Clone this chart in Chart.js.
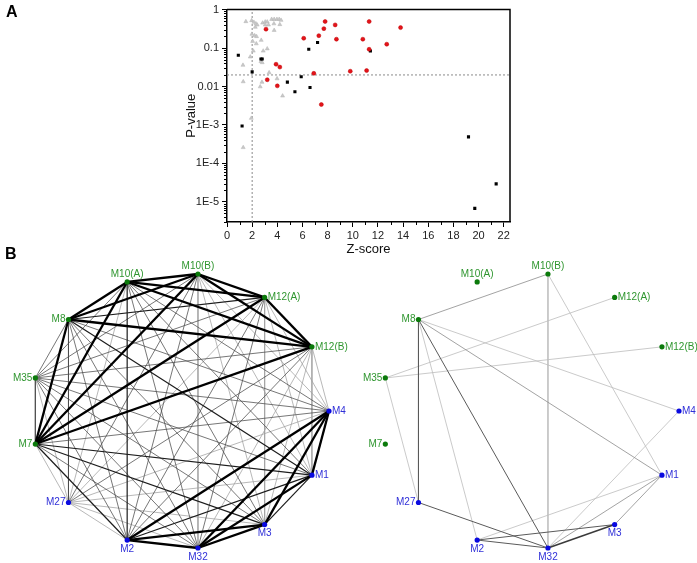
<!DOCTYPE html>
<html>
<head>
<meta charset="utf-8">
<script src="https://cdn.jsdelivr.net/npm/chart.js@4.4.1/dist/chart.umd.min.js"></script>
<style>
  body { margin: 0; background: #fff; width: 697px; height: 563px; position: relative; overflow: hidden; font-family: Arial, "Liberation Sans", sans-serif; }
  canvas { position: absolute; }
  .panel { position: absolute; font-weight: bold; font-size: 16px; color: #000; }
</style>
</head>
<body>
<canvas id="scoreChart" style="left:0;top:0" width="697" height="262"></canvas>
<canvas id="netLeft" style="left:0;top:250px" width="350" height="313"></canvas>
<canvas id="netRight" style="left:350px;top:250px" width="347" height="313"></canvas>
<div class="panel" style="left:6px;top:3px">A</div>
<div class="panel" style="left:5px;top:245px">B</div>
<script>
// ---------------- Panel A data ----------------
const triZ = [1.5, 1.96, 2.14, 2.3, 2.4, 2.25, 2.83, 3.04, 3.2, 3.3, 3.04, 3.55, 3.75, 3.97, 4.15, 4.3, 3.73, 4.2, 3.75,
  1.98, 2.2, 2.35, 2.04, 2.33, 2.72, 3.2, 2.88, 2.09, 1.85, 2.7, 2.8, 1.27, 3.35, 3.98, 1.29, 2.78, 2.64, 4.42, 1.93, 1.29];
const triP = [0.49, 0.52, 0.47, 0.43, 0.40, 0.35, 0.45, 0.48, 0.48, 0.40, 0.40, 0.56, 0.56, 0.56, 0.56, 0.53, 0.43, 0.41, 0.29,
  0.23, 0.21, 0.20, 0.15, 0.13, 0.16, 0.096, 0.084, 0.084, 0.059, 0.045, 0.042, 0.036, 0.023, 0.016, 0.0134, 0.013, 0.0099, 0.0057, 0.0015, 0.00026];

const sqZ = [0.9, 1.2, 2.0, 2.7, 2.8, 4.8, 5.4, 5.9, 6.5, 6.6, 7.2, 11.4, 19.2, 19.7, 21.4];
const sqP = [0.065, 0.00094, 0.024, 0.052, 0.052, 0.013, 0.0073, 0.018, 0.093, 0.0094, 0.14, 0.084, 0.00049, 0.0000068, 0.0000295];

const dotZ = [3.1, 3.9, 4.2, 3.2, 4.0, 6.1, 6.9, 7.5, 7.3, 7.7, 7.8, 8.6, 8.7, 9.8, 10.8, 11.1, 11.3, 11.3, 12.7, 13.8];
const dotP = [0.31, 0.038, 0.032, 0.015, 0.0104, 0.18, 0.022, 0.0034, 0.21, 0.32, 0.49, 0.40, 0.17, 0.025, 0.17, 0.026, 0.49, 0.093, 0.126, 0.34];

const zCut = 2;
const pCut = 0.02;

const xTicks = [0, 2, 4, 6, 8, 10, 12, 14, 16, 18, 20, 22];
const yTicks = [1, 0.1, 0.01, 0.001, 0.0001, 0.00001];
const yTickLabels = ['1', '0.1', '0.01', '1E-3', '1E-4', '1E-5'];
const xMin = 0, xMax = 22.5, yMin = 3e-6, yMax = 1;

const toPts = (xs, ys) => xs.map((v, i) => ({ x: v, y: ys[i] }));

const scoreFrame = {
  id: 'scoreFrame',
  afterDraw(chart) {
    const { ctx, chartArea: a, scales: { x, y } } = chart;
    ctx.save();
    ctx.strokeStyle = '#000';
    ctx.lineWidth = 1.5;
    ctx.beginPath();
    ctx.moveTo(a.left, a.top);
    ctx.lineTo(a.right, a.top);
    ctx.lineTo(a.right, a.bottom);
    ctx.stroke();
    // minor ticks
    ctx.lineWidth = 1;
    ctx.beginPath();
    for (let e = -6; e < 0; e++) {
      for (let m = 2; m <= 9; m++) {
        const v = m * Math.pow(10, e);
        if (v < yMin || v > yMax) continue;
        const py = Math.round(y.getPixelForValue(v)) + 0.5;
        ctx.moveTo(a.left - 3, py);
        ctx.lineTo(a.left, py);
      }
    }
    for (let v = 1; v < xMax; v += 2) {
      const px = Math.round(x.getPixelForValue(v)) + 0.5;
      ctx.moveTo(px, a.bottom);
      ctx.lineTo(px, a.bottom + 3);
    }
    ctx.stroke();
    // axis titles
    ctx.fillStyle = '#111';
    ctx.font = '13px Arial';
    ctx.textAlign = 'center';
    ctx.textBaseline = 'middle';
    ctx.fillText('Z-score', (a.left + a.right) / 2, 249);
    ctx.translate(191, (a.top + a.bottom) / 2);
    ctx.rotate(-Math.PI / 2);
    ctx.fillText('P-value', 0, 0);
    ctx.restore();
  }
};

new Chart(document.getElementById('scoreChart'), {
  type: 'scatter',
  data: {
    datasets: [
      {
        data: toPts(dotZ, dotP),
        pointStyle: 'circle',
        pointRadius: 2,
        backgroundColor: '#e3141b',
        borderColor: '#c00000',
        borderWidth: 0.5,
        order: 1
      },
      {
        data: toPts(sqZ, sqP),
        pointStyle: 'rect',
        pointRadius: 2.2,
        backgroundColor: '#000',
        borderColor: '#000',
        borderWidth: 0,
        order: 2
      },
      {
        data: toPts(triZ, triP),
        pointStyle: 'triangle',
        pointRadius: 2.3,
        backgroundColor: '#c8c8c8',
        borderColor: '#b4b4b4',
        borderWidth: 0.5,
        order: 3
      },
      {
        data: [{ x: zCut, y: yMin }, { x: zCut, y: yMax }],
        showLine: true, pointRadius: 0,
        borderColor: '#8a8a8a', borderWidth: 1, borderDash: [2, 2],
        order: 4
      },
      {
        data: [{ x: xMin, y: pCut }, { x: xMax, y: pCut }],
        showLine: true, pointRadius: 0,
        borderColor: '#8a8a8a', borderWidth: 1, borderDash: [2, 2],
        order: 4
      }
    ]
  },
  options: {
    responsive: false,
    animation: false,
    devicePixelRatio: 1,
    events: [],
    layout: { padding: { left: 0, top: 8, right: 187, bottom: 0 } },
    plugins: { legend: { display: false }, tooltip: { enabled: false } },
    scales: {
      x: {
        type: 'linear',
        min: xMin,
        max: xMax,
        afterBuildTicks: (scale) => { scale.ticks = xTicks.map(v => ({ value: v })); },
        afterFit: (scale) => { scale.height = 40; },
        grid: { display: true, drawOnChartArea: false, drawTicks: true, tickLength: 5, color: '#000' },
        border: { display: true, color: '#000', width: 1.5 },
        ticks: { color: '#222', font: { family: 'Arial', size: 11 }, padding: 2, maxRotation: 0 }
      },
      y: {
        type: 'logarithmic',
        min: yMin,
        max: yMax,
        afterBuildTicks: (scale) => { scale.ticks = yTicks.map(v => ({ value: v, major: true })); },
        afterFit: (scale) => { scale.width = 227; },
        grid: { display: true, drawOnChartArea: false, drawTicks: true, tickLength: 5, color: '#000' },
        border: { display: true, color: '#000', width: 1.5 },
        ticks: {
          color: '#222', font: { family: 'Arial', size: 11 }, padding: 3,
          callback: (v, i) => yTickLabels[i]
        }
      }
    }
  },
  plugins: [scoreFrame]
});

// ---------------- Panel B: module networks ----------------
// nodes in circular order, counter-clockwise from M4
const nodeNames = ['M4', 'M12(B)', 'M12(A)', 'M10(B)', 'M10(A)', 'M8', 'M35', 'M7', 'M27', 'M2', 'M32', 'M3', 'M1'];
const nodeGroups = ['blue', 'green', 'green', 'green', 'green', 'green', 'green', 'green', 'blue', 'blue', 'blue', 'blue', 'blue'];

// [from, to, strength]  3 = strongest ... 0 = weakest
const leftEdges = [
  ['M10(A)', 'M10(B)', 3], ['M10(A)', 'M12(A)', 3], ['M10(A)', 'M12(B)', 3], ['M10(A)', 'M8', 3], ['M10(A)', 'M7', 3],
  ['M10(A)', 'M35', 1], ['M10(A)', 'M4', 1], ['M10(A)', 'M1', 1], ['M10(A)', 'M3', 1], ['M10(A)', 'M32', 1],
  ['M10(A)', 'M2', 2], ['M10(A)', 'M27', 0],
  ['M10(B)', 'M12(A)', 3], ['M10(B)', 'M12(B)', 3], ['M10(B)', 'M8', 3], ['M10(B)', 'M7', 3], ['M10(B)', 'M35', 1],
  ['M10(B)', 'M4', 0], ['M10(B)', 'M1', 0], ['M10(B)', 'M3', 0], ['M10(B)', 'M32', 0], ['M10(B)', 'M2', 1], ['M10(B)', 'M27', 1],
  ['M12(A)', 'M12(B)', 3], ['M12(A)', 'M8', 2], ['M12(A)', 'M7', 3], ['M12(A)', 'M35', 1], ['M12(A)', 'M4', 0],
  ['M12(A)', 'M1', 0], ['M12(A)', 'M3', 0], ['M12(A)', 'M32', 1], ['M12(A)', 'M2', 1], ['M12(A)', 'M27', 0],
  ['M12(B)', 'M8', 3], ['M12(B)', 'M7', 3], ['M12(B)', 'M35', 1], ['M12(B)', 'M4', 0], ['M12(B)', 'M1', 0],
  ['M12(B)', 'M3', 0], ['M12(B)', 'M32', 0], ['M12(B)', 'M2', 1], ['M12(B)', 'M27', 1],
  ['M8', 'M7', 3], ['M8', 'M35', 1], ['M8', 'M4', 1], ['M8', 'M1', 2], ['M8', 'M3', 1], ['M8', 'M32', 1], ['M8', 'M2', 1], ['M8', 'M27', 1],
  ['M35', 'M7', 1], ['M35', 'M4', 1], ['M35', 'M1', 1], ['M35', 'M3', 1], ['M35', 'M32', 1], ['M35', 'M2', 1], ['M35', 'M27', 0],
  ['M7', 'M4', 1], ['M7', 'M1', 2], ['M7', 'M3', 2], ['M7', 'M32', 1], ['M7', 'M2', 2], ['M7', 'M27', 0],
  ['M27', 'M4', 0], ['M27', 'M1', 0], ['M27', 'M3', 0], ['M27', 'M32', 0], ['M27', 'M2', 0],
  ['M2', 'M32', 3], ['M2', 'M3', 3], ['M2', 'M1', 2], ['M2', 'M4', 3],
  ['M32', 'M3', 3], ['M32', 'M1', 3], ['M32', 'M4', 3],
  ['M3', 'M1', 2], ['M3', 'M4', 3],
  ['M1', 'M4', 3]
];

const rightEdges = [
  ['M8', 'M10(B)', 1], ['M8', 'M27', 2], ['M8', 'M2', 0], ['M8', 'M32', 2], ['M8', 'M1', 1], ['M8', 'M4', 0],
  ['M35', 'M12(A)', 0], ['M35', 'M12(B)', 0], ['M35', 'M27', 0],
  ['M10(B)', 'M32', 0], ['M10(B)', 'M1', 0],
  ['M27', 'M32', 2], ['M2', 'M32', 2], ['M2', 'M3', 2], ['M2', 'M1', 0],
  ['M32', 'M3', 3], ['M32', 'M1', 1], ['M32', 'M4', 0], ['M3', 'M1', 1]
];

// styles (kept apart from the data)
const groupDot = { green: '#0b7a0b', blue: '#0a0ae0' };
const groupText = { green: '#2f962f', blue: '#3030d8' };
const labelSide = { 'M4': 'right', 'M12(B)': 'right', 'M12(A)': 'right', 'M10(B)': 'above', 'M10(A)': 'above',
  'M8': 'left', 'M35': 'left', 'M7': 'left', 'M27': 'left', 'M2': 'below', 'M32': 'below', 'M3': 'below', 'M1': 'right' };
const leftStyle = { 3: ['#000000', 2.3], 2: ['#1c1c1c', 1.2], 1: ['#4a4a4a', 0.75], 0: ['#a0a0a0', 0.75] };
const rightStyle = { 3: ['#3a3a3a', 1.5], 2: ['#5a5a5a', 1.0], 1: ['#8c8c8c', 0.8], 0: ['#bdbdbd', 0.8] };

function nodePos(name) {
  const i = nodeNames.indexOf(name);
  const t = i * 2 * Math.PI / nodeNames.length;
  return { x: Math.cos(t), y: Math.sin(t) };
}

const nodeLabels = {
  id: 'nodeLabels',
  afterDatasetsDraw(chart) {
    const { ctx, scales: { x, y } } = chart;
    ctx.save();
    ctx.font = '10px Arial';
    nodeNames.forEach((name, i) => {
      const p = nodePos(name);
      const px = x.getPixelForValue(p.x), py = y.getPixelForValue(p.y);
      ctx.fillStyle = groupText[nodeGroups[i]];
      const side = labelSide[name];
      if (side === 'right') { ctx.textAlign = 'left'; ctx.textBaseline = 'middle'; ctx.fillText(name, px + 3, py); }
      else if (side === 'left') { ctx.textAlign = 'right'; ctx.textBaseline = 'middle'; ctx.fillText(name, px - 3, py); }
      else if (side === 'above') { ctx.textAlign = 'center'; ctx.textBaseline = 'bottom'; ctx.fillText(name, px, py - 3); }
      else { ctx.textAlign = 'center'; ctx.textBaseline = 'top'; ctx.fillText(name, px, py + 4); }
    });
    ctx.restore();
  }
};

function drawNetwork(id, edges, style, padRight) {
  const datasets = edges.map(([a, b, w]) => ({
    data: [nodePos(a), nodePos(b)],
    showLine: true,
    pointRadius: 0,
    borderColor: style[w][0],
    borderWidth: style[w][1],
    clip: false,
    order: 10 - w
  }));
  datasets.push({
    data: nodeNames.map(n => nodePos(n)),
    pointRadius: 2.6,
    pointBackgroundColor: nodeGroups.map(g => groupDot[g]),
    pointBorderWidth: 0,
    clip: false,
    order: 0
  });
  new Chart(document.getElementById(id), {
    type: 'scatter',
    data: { datasets },
    options: {
      responsive: false,
      animation: false,
      devicePixelRatio: 1,
      events: [],
      layout: { padding: { left: 31, right: padRight, top: 23, bottom: 14 } },
      plugins: { legend: { display: false }, tooltip: { enabled: false } },
      scales: {
        x: { type: 'linear', min: -1, max: 1, display: false },
        y: { type: 'linear', min: -1, max: 1, display: false }
      }
    },
    plugins: [nodeLabels]
  });
}

drawNetwork('netLeft', leftEdges, leftStyle, 21);
drawNetwork('netRight', rightEdges, rightStyle, 18);
</script>
</body>
</html>
